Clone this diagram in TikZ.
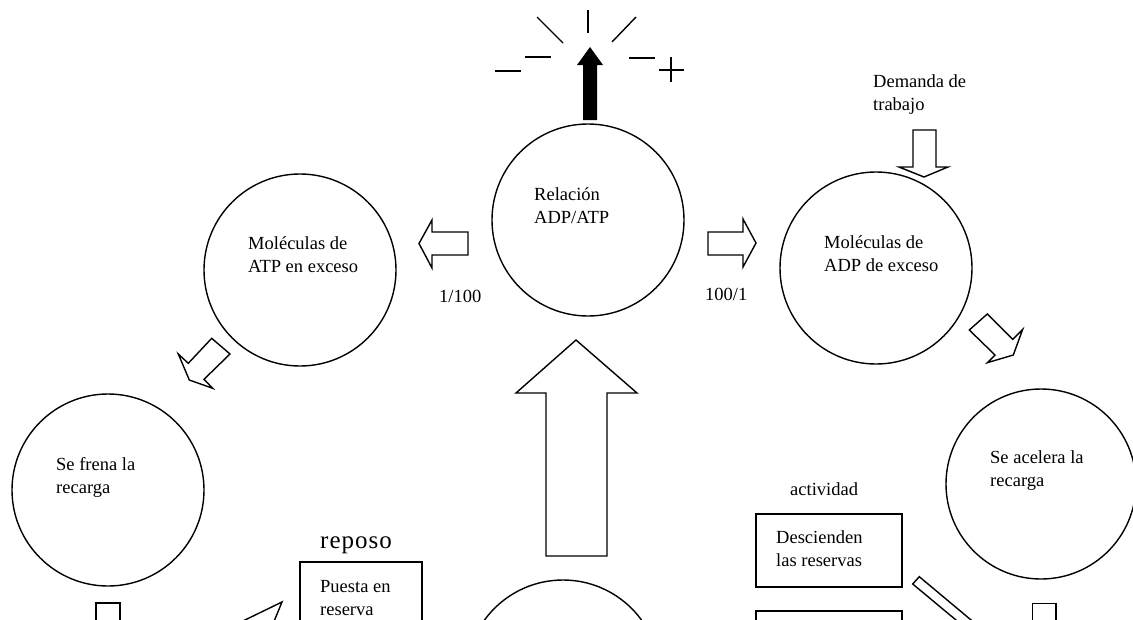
\documentclass[tikz,border=0pt]{standalone}
\usepackage{fontspec}
\setmainfont{Liberation Serif}
% two stacked lines whose baseline is the first line
\newcommand\twolines[2]{\vtop{\baselineskip=23pt\hbox{#1}\hbox{#2}}}
\begin{document}
\begin{tikzpicture}[x=1pt,y=-1pt,
  bubble/.style={circle,draw,line width=1.4pt,minimum size=192pt,inner sep=0pt},
  txt/.style={anchor=base west,inner sep=0pt,font=\fontsize{18.5}{23}\selectfont},
  bigtxt/.style={anchor=base west,inner sep=0pt,font=\fontsize{25}{30}\selectfont\addfontfeature{LetterSpace=4}},
  blockarrow/.style={draw,line width=1.4pt,fill=white,line join=miter},
  panel/.style={draw,line width=1.4pt,inner sep=0pt},
  ray/.style={line width=1.4pt}]
\useasboundingbox (0,0) rectangle (1133,619);
\clip (0,0) rectangle (1133,619);

% circles
\node[bubble] (relacion) at (588,220) {};
\node[bubble] (atp) at (300,270) {};
\node[bubble] (adp) at (876,268) {};
\node[bubble] (frena) at (108,490) {};
\node[bubble,minimum size=190pt] (acelera) at (1041,484) {};
\node[bubble,minimum size=194pt] (fondo) at (563,677) {};

% circle texts
\node[txt] (trel) at (534,200) {\twolines{Relación}{ADP/ATP}};
\node[txt] (tatp) at (248,249) {\twolines{Moléculas de}{ATP en exceso}};
\node[txt] (tadp) at (824,248) {\twolines{Moléculas de}{ADP de exceso}};
\node[txt] (tfre) at (56,470) {\twolines{Se frena la}{recarga}};
\node[txt] (tace) at (990,463) {\twolines{Se acelera la}{recarga}};

% free labels
\node[txt] (tdem) at (873,87) {\twolines{Demanda de}{trabajo}};
\node[txt] (r1) at (439,302) {1/100};
\node[txt] (r2) at (705,300) {100/1};
\node[bigtxt] (trep) at (320,548) {reposo};
\node[txt] (tact) at (790,495) {actividad};

% boxes
\draw[panel] (300,660) -- (300,562) -- (422,562) -- (422,660);
\node[txt] (tpue) at (320,592) {\twolines{Puesta en}{reserva}};
\node[panel,minimum width=146pt,minimum height=73pt] (desc) at (829,550.5) {};
\node[txt] (tdes) at (776,543) {\twolines{Descienden}{las reservas}};
\draw[panel] (756,660) -- (756,611) -- (902,611) -- (902,660);

% black arrow with rays
\fill (583,120) -- (583,65) -- (577,65) -- (590,47) -- (603,65) -- (597,65) -- (597,120) -- cycle;
\draw[ray] (588,10) -- (588,33);
\draw[ray] (537,17) -- (563,43);
\draw[ray] (636,17) -- (612,42);
\draw[ray] (525,57) -- (551,57);
\draw[ray] (495,71) -- (521,71);
\draw[ray] (629,58) -- (655,58);
\draw[ray] (659,70) -- (684,70);
\draw[ray] (671,57) -- (671,82);

% hollow block arrows
\draw[blockarrow] (468,232) -- (432,232) -- (432,220) -- (419,243.5) -- (432,268) -- (432,255) -- (468,255) -- cycle;
\draw[blockarrow] (708,232) -- (743,232) -- (743,219) -- (756,243) -- (743,267) -- (743,255) -- (708,255) -- cycle;
\draw[blockarrow] (913,130) -- (936,130) -- (936,167) -- (948,167) -- (924,177) -- (899,167) -- (913,167) -- cycle;
\draw[blockarrow] (546,556) -- (546,393) -- (516,393) -- (576,340) -- (637,393) -- (607,393) -- (607,556) -- cycle;
\draw[blockarrow] (211.7,338.3) -- (230,354) -- (204,379.3) -- (212.7,388.3) -- (189.3,380) -- (178.3,354) -- (188.3,363.3) -- cycle;
\draw[blockarrow] (987.3,314) -- (1012.7,339.3) -- (1022.7,329.3) -- (1013.3,355) -- (987.3,362.7) -- (995,355) -- (969.3,330) -- cycle;

% arrows running off the lower edge
\draw[blockarrow] (96,640) -- (96,603) -- (120,603) -- (120,640);
\draw[blockarrow] (1032.5,640) -- (1032.5,603.5) -- (1056,603.5) -- (1056,640);
\draw[blockarrow] (212,636) -- (282,602) -- (268,636);
\draw[blockarrow] (980,640) -- (912.7,584) -- (919.3,576.7) -- (995,640);
\end{tikzpicture}
\end{document}
